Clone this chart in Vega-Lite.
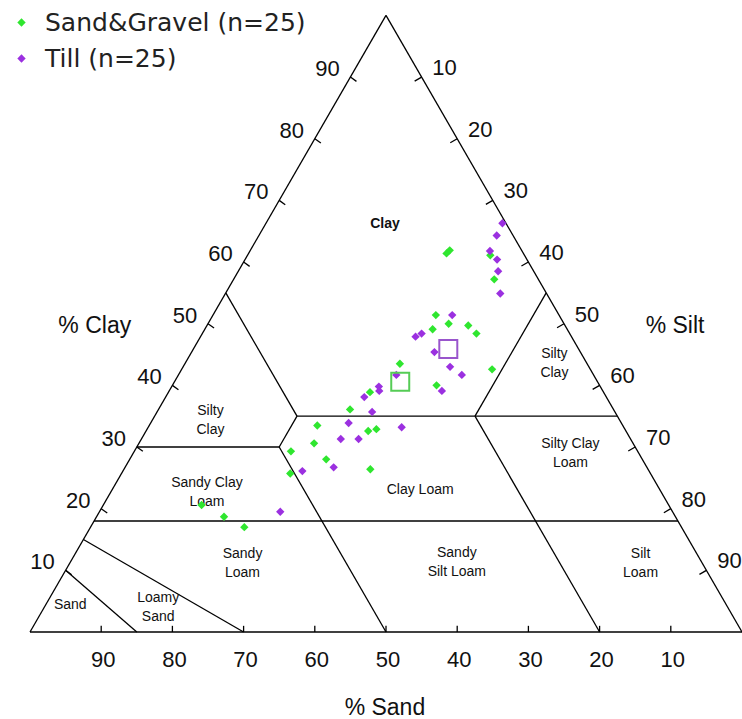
{
"$schema": "https://vega.github.io/schema/vega-lite/v6.json",
"width": 712, "height": 617,
"autosize": {"type": "none"},
"padding": {"left": 30, "top": 15, "right": 0, "bottom": 87},
"background": "white",
"config": {"view": {"stroke": null}},
"data": {"values": [
{"kind":"r","sand":100,"clay":0,"sand2":0,"clay2":0},
{"kind":"r","sand":100,"clay":0,"sand2":0,"clay2":100},
{"kind":"r","sand":0,"clay":0,"sand2":0,"clay2":100},
{"kind":"r","sand":45,"clay":55,"sand2":45,"clay2":35},
{"kind":"r","sand":45,"clay":35,"sand2":50,"clay2":30},
{"kind":"r","sand":50,"clay":30,"sand2":50,"clay2":0},
{"kind":"r","sand":70,"clay":30,"sand2":50,"clay2":30},
{"kind":"r","sand":45,"clay":35,"sand2":0,"clay2":35},
{"kind":"r","sand":0,"clay":55,"sand2":20,"clay2":35},
{"kind":"r","sand":20,"clay":35,"sand2":20,"clay2":0},
{"kind":"r","sand":82,"clay":18,"sand2":0,"clay2":18},
{"kind":"r","sand":70,"clay":0,"sand2":85,"clay2":15},
{"kind":"r","sand":85,"clay":0,"sand2":90,"clay2":10},
{"kind":"r","sand":10,"clay":0,"sand2":9.5,"clay2":1},
{"kind":"r","sand":20,"clay":0,"sand2":19.5,"clay2":1},
{"kind":"r","sand":30,"clay":0,"sand2":29.5,"clay2":1},
{"kind":"r","sand":40,"clay":0,"sand2":39.5,"clay2":1},
{"kind":"r","sand":50,"clay":0,"sand2":49.5,"clay2":1},
{"kind":"r","sand":60,"clay":0,"sand2":59.5,"clay2":1},
{"kind":"r","sand":70,"clay":0,"sand2":69.5,"clay2":1},
{"kind":"r","sand":80,"clay":0,"sand2":79.5,"clay2":1},
{"kind":"r","sand":90,"clay":0,"sand2":89.5,"clay2":1},
{"kind":"r","sand":90,"clay":10,"sand2":89.5,"clay2":9.3},
{"kind":"r","sand":80,"clay":20,"sand2":79.5,"clay2":19.3},
{"kind":"r","sand":70,"clay":30,"sand2":69.5,"clay2":29.3},
{"kind":"r","sand":60,"clay":40,"sand2":59.5,"clay2":39.3},
{"kind":"r","sand":50,"clay":50,"sand2":49.5,"clay2":49.3},
{"kind":"r","sand":40,"clay":60,"sand2":39.5,"clay2":59.3},
{"kind":"r","sand":30,"clay":70,"sand2":29.5,"clay2":69.3},
{"kind":"r","sand":20,"clay":80,"sand2":19.5,"clay2":79.3},
{"kind":"r","sand":10,"clay":90,"sand2":9.5,"clay2":89.3},
{"kind":"r","sand":0,"clay":90,"sand2":1.3,"clay2":89.35},
{"kind":"r","sand":0,"clay":80,"sand2":1.3,"clay2":79.35},
{"kind":"r","sand":0,"clay":70,"sand2":1.3,"clay2":69.35},
{"kind":"r","sand":0,"clay":60,"sand2":1.3,"clay2":59.35},
{"kind":"r","sand":0,"clay":50,"sand2":1.3,"clay2":49.35},
{"kind":"r","sand":0,"clay":40,"sand2":1.3,"clay2":39.35},
{"kind":"r","sand":0,"clay":30,"sand2":1.3,"clay2":29.35},
{"kind":"r","sand":0,"clay":20,"sand2":1.3,"clay2":19.35},
{"kind":"r","sand":0,"clay":10,"sand2":1.3,"clay2":9.35},
{"kind":"bt","sand":90,"clay":0,"txt":"90"},
{"kind":"bt","sand":80,"clay":0,"txt":"80"},
{"kind":"bt","sand":70,"clay":0,"txt":"70"},
{"kind":"bt","sand":60,"clay":0,"txt":"60"},
{"kind":"bt","sand":50,"clay":0,"txt":"50"},
{"kind":"bt","sand":40,"clay":0,"txt":"40"},
{"kind":"bt","sand":30,"clay":0,"txt":"30"},
{"kind":"bt","sand":20,"clay":0,"txt":"20"},
{"kind":"bt","sand":10,"clay":0,"txt":"10"},
{"kind":"lt","sand":90,"clay":10,"txt":"10"},
{"kind":"lt","sand":80,"clay":20,"txt":"20"},
{"kind":"lt","sand":70,"clay":30,"txt":"30"},
{"kind":"lt","sand":60,"clay":40,"txt":"40"},
{"kind":"lt","sand":50,"clay":50,"txt":"50"},
{"kind":"lt","sand":40,"clay":60,"txt":"60"},
{"kind":"lt","sand":30,"clay":70,"txt":"70"},
{"kind":"lt","sand":20,"clay":80,"txt":"80"},
{"kind":"lt","sand":10,"clay":90,"txt":"90"},
{"kind":"rt","sand":0,"clay":90,"txt":"10"},
{"kind":"rt","sand":0,"clay":80,"txt":"20"},
{"kind":"rt","sand":0,"clay":70,"txt":"30"},
{"kind":"rt","sand":0,"clay":60,"txt":"40"},
{"kind":"rt","sand":0,"clay":50,"txt":"50"},
{"kind":"rt","sand":0,"clay":40,"txt":"60"},
{"kind":"rt","sand":0,"clay":30,"txt":"70"},
{"kind":"rt","sand":0,"clay":20,"txt":"80"},
{"kind":"rt","sand":0,"clay":10,"txt":"90"},
{"kind":"ti","sand":66.1,"clay":49.6,"txt":"% Clay"},
{"kind":"ti","sand":-15.4,"clay":49.6,"txt":"% Silt"},
{"kind":"ti","sand":56.3,"clay":-12.3,"txt":"% Sand"},
{"kind":"labb","sand":17.1,"clay":66.1,"txt":"Clay"},
{"kind":"lab2","sand":57.5,"clay":34.3,"txt":"Silty\nClay"},
{"kind":"lab2","sand":4.6,"clay":43.5,"txt":"Silty\nClay"},
{"kind":"lab2","sand":63.8,"clay":22.7,"txt":"Sandy Clay\nLoam"},
{"kind":"lab1","sand":33.7,"clay":23.0,"txt":"Clay Loam"},
{"kind":"lab2","sand":9.6,"clay":29.0,"txt":"Silty Clay\nLoam"},
{"kind":"lab2","sand":64.6,"clay":11.1,"txt":"Sandy\nLoam"},
{"kind":"lab2","sand":34.4,"clay":11.3,"txt":"Sandy\nSilt Loam"},
{"kind":"lab2","sand":8.7,"clay":11.1,"txt":"Silt\nLoam"},
{"kind":"lab1","sand":92.2,"clay":4.3,"txt":"Sand"},
{"kind":"lab2","sand":80.0,"clay":4.0,"txt":"Loamy\nSand"},
{"kind":"pt","group":"Sand&Gravel (n=25)","sand":10.8,"clay":61.4},
{"kind":"pt","group":"Sand&Gravel (n=25)","sand":10.1,"clay":61.9},
{"kind":"pt","group":"Sand&Gravel (n=25)","sand":4.8,"clay":61.1},
{"kind":"pt","group":"Sand&Gravel (n=25)","sand":6.2,"clay":57.2},
{"kind":"pt","group":"Sand&Gravel (n=25)","sand":17.3,"clay":51.4},
{"kind":"pt","group":"Sand&Gravel (n=25)","sand":16.2,"clay":50.0},
{"kind":"pt","group":"Sand&Gravel (n=25)","sand":18.9,"clay":49.1},
{"kind":"pt","group":"Sand&Gravel (n=25)","sand":13.6,"clay":49.7},
{"kind":"pt","group":"Sand&Gravel (n=25)","sand":13.1,"clay":48.4},
{"kind":"pt","group":"Sand&Gravel (n=25)","sand":13.8,"clay":42.6},
{"kind":"pt","group":"Sand&Gravel (n=25)","sand":22.9,"clay":40.0},
{"kind":"pt","group":"Sand&Gravel (n=25)","sand":26.3,"clay":43.5},
{"kind":"pt","group":"Sand&Gravel (n=25)","sand":32.8,"clay":38.9},
{"kind":"pt","group":"Sand&Gravel (n=25)","sand":37.0,"clay":36.1},
{"kind":"pt","group":"Sand&Gravel (n=25)","sand":42.9,"clay":33.5},
{"kind":"pt","group":"Sand&Gravel (n=25)","sand":36.2,"clay":32.6},
{"kind":"pt","group":"Sand&Gravel (n=25)","sand":34.9,"clay":32.9},
{"kind":"pt","group":"Sand&Gravel (n=25)","sand":44.8,"clay":30.6},
{"kind":"pt","group":"Sand&Gravel (n=25)","sand":48.7,"clay":29.3},
{"kind":"pt","group":"Sand&Gravel (n=25)","sand":44.4,"clay":28.0},
{"kind":"pt","group":"Sand&Gravel (n=25)","sand":50.6,"clay":25.7},
{"kind":"pt","group":"Sand&Gravel (n=25)","sand":39.0,"clay":26.4},
{"kind":"pt","group":"Sand&Gravel (n=25)","sand":63.4,"clay":18.7},
{"kind":"pt","group":"Sand&Gravel (n=25)","sand":61.4,"clay":17.0},
{"kind":"pt","group":"Sand&Gravel (n=25)","sand":65.6,"clay":20.6},
{"kind":"pt","group":"Till (n=25)","sand":0.5,"clay":66.3},
{"kind":"pt","group":"Till (n=25)","sand":2.3,"clay":64.3},
{"kind":"pt","group":"Till (n=25)","sand":4.5,"clay":61.8},
{"kind":"pt","group":"Till (n=25)","sand":4.2,"clay":60.4},
{"kind":"pt","group":"Till (n=25)","sand":5.0,"clay":58.5},
{"kind":"pt","group":"Till (n=25)","sand":6.5,"clay":54.9},
{"kind":"pt","group":"Till (n=25)","sand":15.0,"clay":51.4},
{"kind":"pt","group":"Till (n=25)","sand":20.8,"clay":48.4},
{"kind":"pt","group":"Till (n=25)","sand":21.9,"clay":47.9},
{"kind":"pt","group":"Till (n=25)","sand":20.5,"clay":45.4},
{"kind":"pt","group":"Till (n=25)","sand":19.5,"clay":43.0},
{"kind":"pt","group":"Till (n=25)","sand":18.5,"clay":41.7},
{"kind":"pt","group":"Till (n=25)","sand":22.6,"clay":39.1},
{"kind":"pt","group":"Till (n=25)","sand":27.7,"clay":41.7},
{"kind":"pt","group":"Till (n=25)","sand":31.1,"clay":39.8},
{"kind":"pt","group":"Till (n=25)","sand":31.4,"clay":39.1},
{"kind":"pt","group":"Till (n=25)","sand":34.0,"clay":38.1},
{"kind":"pt","group":"Till (n=25)","sand":34.1,"clay":35.7},
{"kind":"pt","group":"Till (n=25)","sand":38.3,"clay":33.9},
{"kind":"pt","group":"Till (n=25)","sand":31.2,"clay":33.2},
{"kind":"pt","group":"Till (n=25)","sand":40.7,"clay":31.3},
{"kind":"pt","group":"Till (n=25)","sand":38.2,"clay":31.3},
{"kind":"pt","group":"Till (n=25)","sand":44.0,"clay":26.7},
{"kind":"pt","group":"Till (n=25)","sand":48.7,"clay":26.1},
{"kind":"pt","group":"Till (n=25)","sand":55.1,"clay":19.5},
{"kind":"mean","group":"Sand&Gravel (n=25)","sand":27.7,"clay":40.6},
{"kind":"mean","group":"Till (n=25)","sand":18.3,"clay":45.9}
]},
"transform": [
{"calculate": "100 - datum.sand - datum.clay / 2", "as": "px"},
{"calculate": "datum.clay * 0.8660254", "as": "py"},
{"calculate": "100 - datum.sand2 - datum.clay2 / 2", "as": "px2"},
{"calculate": "datum.clay2 * 0.8660254", "as": "py2"}
],
"encoding": {
"x": {"field": "px", "type": "quantitative", "scale": {"domain": [0, 100], "nice": false, "zero": false}, "axis": null},
"y": {"field": "py", "type": "quantitative", "scale": {"domain": [0, 86.66], "nice": false, "zero": false}, "axis": null}
},
"layer": [
{"transform": [{"filter": "datum.kind == 'r'"}],
 "mark": {"type": "rule", "color": "black", "strokeWidth": 1.3},
 "encoding": {"x2": {"field": "px2"}, "y2": {"field": "py2"}}},
{"transform": [{"filter": "datum.kind == 'lab2'"}],
 "mark": {"type": "text", "font": "Liberation Sans", "fontSize": 14, "lineBreak": "\n", "lineHeight": 19, "align": "center", "baseline": "middle", "dy": -9.5, "color": "#111"},
 "encoding": {"text": {"field": "txt"}}},
{"transform": [{"filter": "datum.kind == 'lab1'"}],
 "mark": {"type": "text", "font": "Liberation Sans", "fontSize": 14, "align": "center", "baseline": "middle", "color": "#111"},
 "encoding": {"text": {"field": "txt"}}},
{"transform": [{"filter": "datum.kind == 'labb'"}],
 "mark": {"type": "text", "font": "Liberation Sans", "fontSize": 14, "fontWeight": "bold", "align": "center", "baseline": "middle", "color": "#111"},
 "encoding": {"text": {"field": "txt"}}},
{"transform": [{"filter": "datum.kind == 'lt'"}],
 "mark": {"type": "text", "font": "Liberation Sans", "fontSize": 22, "align": "center", "baseline": "middle", "dx": -23, "dy": -8, "color": "#111"},
 "encoding": {"text": {"field": "txt"}}},
{"transform": [{"filter": "datum.kind == 'rt'"}],
 "mark": {"type": "text", "font": "Liberation Sans", "fontSize": 22, "align": "center", "baseline": "middle", "dx": 23, "dy": -9, "color": "#111"},
 "encoding": {"text": {"field": "txt"}}},
{"transform": [{"filter": "datum.kind == 'bt'"}],
 "mark": {"type": "text", "font": "Liberation Sans", "fontSize": 22, "align": "center", "baseline": "middle", "dx": 2, "dy": 28, "color": "#111"},
 "encoding": {"text": {"field": "txt"}}},
{"transform": [{"filter": "datum.kind == 'ti'"}],
 "mark": {"type": "text", "font": "Liberation Sans", "fontSize": 23, "align": "center", "baseline": "middle", "color": "#111"},
 "encoding": {"text": {"field": "txt"}}},
{"transform": [{"filter": "datum.kind == 'pt'"}],
 "mark": {"type": "point", "filled": true, "shape": "diamond", "size": 70, "opacity": 1},
 "encoding": {"color": {"field": "group", "type": "nominal",
   "scale": {"domain": ["Sand&Gravel (n=25)", "Till (n=25)"], "range": ["#2fe62f", "#9b30e0"]},
   "legend": {"title": null, "orient": "none", "legendX": -21, "legendY": -5, "padding": 0,
     "symbolType": "diamond", "symbolSize": 70, "symbolStrokeWidth": 0,
     "labelFont": "DejaVu Sans", "labelFontSize": 25, "labelColor": "#222", "labelOffset": 11, "labelLimit": 500, "rowPadding": 10}}}},
{"transform": [{"filter": "datum.kind == 'mean'"}],
 "mark": {"type": "point", "filled": false, "shape": "square", "size": 324, "strokeWidth": 2, "opacity": 1},
 "encoding": {"stroke": {"field": "group", "type": "nominal",
   "scale": {"domain": ["Sand&Gravel (n=25)", "Till (n=25)"], "range": ["#55cc55", "#9955cc"]},
   "legend": null}}}
]
}
